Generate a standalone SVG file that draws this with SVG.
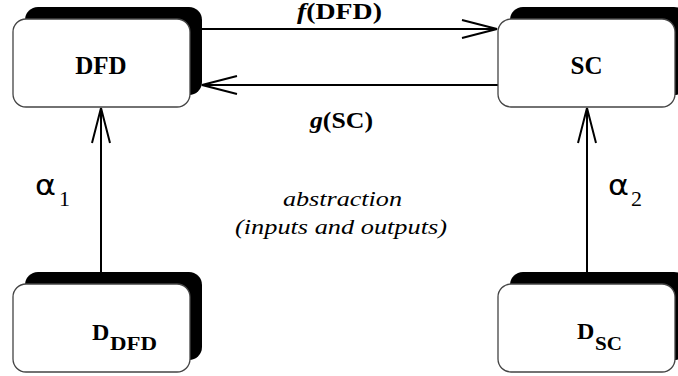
<svg xmlns="http://www.w3.org/2000/svg" width="678" height="376" viewBox="0 0 678 376">
<style>
.shadow{fill:#000}
.front{fill:#fff;stroke:#444;stroke-width:1.3}
.edge{stroke:#000;stroke-width:2;fill:none}
</style>
<defs>
<marker id="open" viewBox="-37 -11 40 22" refX="0" refY="0" markerWidth="40" markerHeight="22" markerUnits="userSpaceOnUse" orient="auto" overflow="visible">
<path d="M-35,-9 L0,0 L-35,9" fill="none" stroke="#000" stroke-width="2"/>
</marker>
</defs>
<rect width="678" height="376" fill="#fff"/>
<g id="connectors">
<line class="edge" x1="202" y1="29" x2="497" y2="29" marker-end="url(#open)"/>
<line class="edge" x1="498" y1="85" x2="202" y2="85" marker-end="url(#open)"/>
<line class="edge" x1="101" y1="272" x2="101" y2="108" marker-end="url(#open)"/>
<line class="edge" x1="587" y1="272" x2="587" y2="108" marker-end="url(#open)"/>
<g font-family="Liberation Serif, Times New Roman, DejaVu Serif, serif" font-weight="bold" fill="#000">
<text x="297" y="19" font-size="23" textLength="85" lengthAdjust="spacingAndGlyphs"><tspan font-style="italic">f</tspan>(DFD)</text>
<text x="310" y="128" font-size="23" textLength="63" lengthAdjust="spacingAndGlyphs"><tspan font-style="italic">g</tspan>(SC)</text>
</g>
<g font-family="DejaVu Sans, sans-serif" fill="#000">
<text x="35" y="195" font-size="29" textLength="21" lengthAdjust="spacingAndGlyphs">α</text>
<text x="608" y="195" font-size="29" textLength="21" lengthAdjust="spacingAndGlyphs">α</text>
</g>
<g font-family="Liberation Serif, Times New Roman, DejaVu Serif, serif" fill="#000">
<text x="59" y="205.5" font-size="22">1</text>
<text x="631" y="205.5" font-size="22">2</text>
</g>
<g font-family="Liberation Serif, Times New Roman, DejaVu Serif, serif" font-style="italic" fill="#000">
<text x="283" y="205.5" font-size="22" textLength="119" lengthAdjust="spacingAndGlyphs">abstraction</text>
<text x="235" y="234" font-size="22" textLength="212" lengthAdjust="spacingAndGlyphs">(inputs and outputs)</text>
</g>
</g>
<g id="node-dfd">
<rect class="shadow" x="25" y="7" width="177" height="88" rx="13"/>
<rect class="front" x="13" y="19" width="177" height="88" rx="13"/>
<text x="101" y="74" font-size="25" text-anchor="middle" font-family="Liberation Serif, Times New Roman, DejaVu Serif, serif" font-weight="bold">DFD</text>
</g>
<g id="node-sc">
<rect class="shadow" x="510" y="7" width="177" height="88" rx="13"/>
<rect class="front" x="498" y="19" width="177" height="88" rx="13"/>
<text x="586.5" y="74" font-size="25" text-anchor="middle" font-family="Liberation Serif, Times New Roman, DejaVu Serif, serif" font-weight="bold">SC</text>
</g>
<g id="node-ddfd" font-family="Liberation Serif, Times New Roman, DejaVu Serif, serif" font-weight="bold">
<rect class="shadow" x="25" y="272" width="177" height="88" rx="13"/>
<rect class="front" x="13" y="284" width="177" height="88" rx="13"/>
<text x="92" y="340" font-size="24">D</text>
<text x="110" y="350" font-size="18" textLength="47" lengthAdjust="spacingAndGlyphs">DFD</text>
</g>
<g id="node-dsc" font-family="Liberation Serif, Times New Roman, DejaVu Serif, serif" font-weight="bold">
<rect class="shadow" x="510" y="272" width="177" height="88" rx="13"/>
<rect class="front" x="498" y="284" width="177" height="88" rx="13"/>
<text x="577" y="339" font-size="24">D</text>
<text x="595" y="349.5" font-size="18" textLength="27" lengthAdjust="spacingAndGlyphs">SC</text>
</g>
</svg>
